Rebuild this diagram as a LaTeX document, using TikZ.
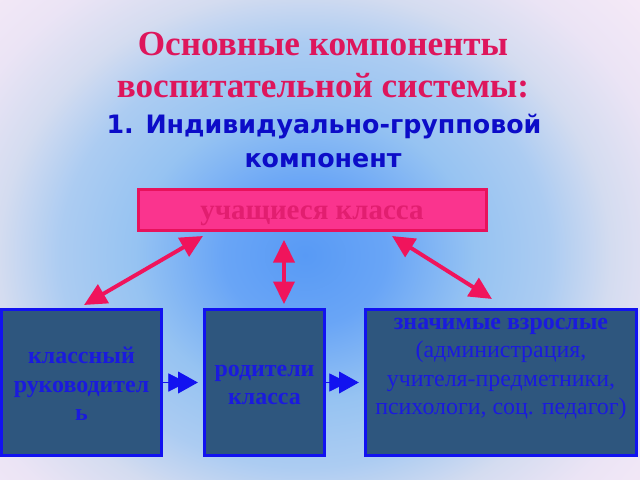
\documentclass[tikz,border=0pt]{standalone}
\usepackage{fontspec}
\setmainfont{Liberation Serif}
\newfontfamily\vsans{DejaVu Sans}
\usetikzlibrary{arrows.meta,calc}
\definecolor{titlered}{RGB}{222,22,92}
\definecolor{subblue}{RGB}{12,12,200}
\definecolor{pinkfill}{RGB}{250,52,142}
\definecolor{pinkedge}{RGB}{232,18,92}
\definecolor{pinktext}{RGB}{226,30,112}
\definecolor{arrowpink}{RGB}{240,20,92}
\definecolor{boxfill}{RGB}{46,86,126}
\definecolor{boxedge}{RGB}{18,18,240}
\definecolor{btext}{RGB}{26,26,222}
\definecolor{bg0}{RGB}{88,154,245}
\definecolor{bg1}{RGB}{105,165,246}
\definecolor{bg2}{RGB}{150,195,242}
\definecolor{bg3}{RGB}{172,204,242}
\definecolor{bg4}{RGB}{212,220,240}
\definecolor{bg5}{RGB}{235,228,245}
\definecolor{bg6}{RGB}{250,236,248}
\pgfdeclareradialshading{bgshade}{\pgfpoint{0bp}{0bp}}{color(0bp)=(bg0); color(12bp)=(bg1); color(25bp)=(bg2); color(36bp)=(bg3); color(45bp)=(bg4); color(55bp)=(bg5); color(71bp)=(bg6)}
\begin{document}
\begin{tikzpicture}[x=0.025cm,y=-0.025cm,
  title/.style={font=\bfseries\fontsize{25}{30}\selectfont, text=titlered, anchor=base, inner sep=0},
  sub/.style={font=\vsans\bfseries\fontsize{18}{21}\selectfont, text=subblue, anchor=base, inner sep=0},
  pinkbox/.style={draw=pinkedge, fill=pinkfill, line width=2.2pt, minimum width=8.7cm, minimum height=1.025cm, inner sep=0},
  bluebox/.style={draw=boxedge, fill=boxfill, line width=2.5pt, minimum height=3.65cm, inner sep=0},
  boxlabel/.style={text=btext, font=\fontsize{17}{20.3}\selectfont, align=center, inner sep=0},
  link/.style={draw=arrowpink, line width=2.8pt, {Triangle[length=16pt,width=15pt]}-{Triangle[length=16pt,width=15pt]}},
  flow/.style={draw=boxedge, line width=0.6pt, shorten >=3.5pt, -{Triangle[length=13pt,width=13pt,sep=-6pt]Triangle[length=14pt,width=15.5pt]}}
]
\useasboundingbox (0,0) rectangle (640,480);
\begin{scope}
\clip (0,0) rectangle (640,480);
\fill[bg6] (0,0) rectangle (640,480);
\node[inner sep=0, outer sep=0, xscale=4.82, yscale=4.18, transform shape] (bgnode) at (305,255) {\pgfuseshading{bgshade}};
\end{scope}

\node[title] (t1) at (323,55) {Основные компоненты};
\node[title] (t2) at (323,97) {воспитательной системы:};
\node[sub] (t3) at (324,133) {1. Индивидуально-групповой};
\node[sub] (t4) at (323,167) {компонент};

\node[pinkbox] (s) at (312.5,210) {};
\node[text=pinktext, font=\bfseries\fontsize{20.6}{24}\selectfont, anchor=base, inner sep=0] (st) at (312,219) {учащиеся класса};

\node[bluebox, minimum width=4.0cm] (k) at (81.5,382.5) {};
\node[boxlabel, font=\bfseries\fontsize{17}{20.3}\selectfont] (kt) at (81.5,384) {классный\\руководител\\ь};
\node[bluebox, minimum width=3.0cm] (r) at (264.5,382.5) {};
\node[boxlabel, font=\bfseries\fontsize{17}{20.3}\selectfont] (rt) at (264.5,385) {родители\\класса};
\node[bluebox, minimum width=6.775cm] (v) at (501,382.5) {};
\node[boxlabel] (vt) at (501,369) {\textbf{значимые взрослые}\\(администрация,\\учителя-предметники,\\психологи, соц. педагог)};

\coordinate (a1) at (84,305);
\coordinate (a2) at (203,236);
\coordinate (b1) at (284,304);
\coordinate (b2) at (284,240);
\coordinate (c1) at (492,299);
\coordinate (c2) at (392,236);
\draw[link] (a1) -- (a2);
\draw[link] (b1) -- (b2);
\draw[link] (c1) -- (c2);

\draw[flow] (k.east) -- (r.west);
\draw[flow] (r.east) -- (v.west);
\end{tikzpicture}
\end{document}
